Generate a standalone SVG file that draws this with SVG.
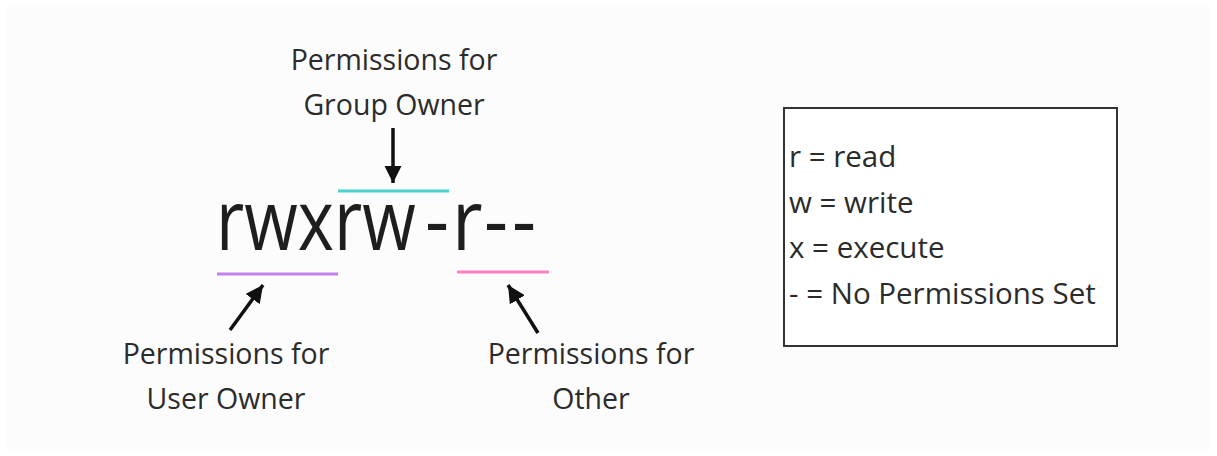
<svg xmlns="http://www.w3.org/2000/svg" width="1217" height="456" viewBox="0 0 1217 456">
  <defs>
    <marker id="head" viewBox="0 0 10 10" refX="10" refY="5" markerWidth="5" markerHeight="5" markerUnits="strokeWidth" orient="auto">
      <path d="M0,0 L10,5 L0,10 z" fill="#111"/>
    </marker>
    <style>
      .lbl { font-family: "Open Sans", "Noto Sans", sans-serif; font-size: 28.5px; fill: #2b2b2b; text-anchor: middle; }
      .key { font-family: "Open Sans", "Noto Sans", sans-serif; font-size: 29.5px; fill: #2b2b2b; }
      .perm { font-family: "Open Sans", "Noto Sans", sans-serif; font-size: 84px; fill: #1e1e1e; }
      .arrow { stroke: #111; stroke-width: 3.5; fill: none; marker-end: url(#head); }
      .bar { stroke-width: 3; }
    </style>
  </defs>

  <rect width="1217" height="456" fill="#ffffff"/>
  <rect x="7" y="7" width="1203" height="442" fill="#fcfcfc"/>

  <!-- permission string: condensed user+group triplets, then the other triplet spaced out -->
  <g id="perm-string">
    <g transform="scale(0.823 1)">
      <text class="perm" x="262.5" y="250">rwxrw</text>
    </g>
    <g transform="scale(0.89 1)">
      <text class="perm" x="477.5 507.9 543.8 575.3" y="250">-r--</text>
    </g>
  </g>

  <!-- coloured brackets under each triplet -->
  <g id="group-bar"><line class="bar" x1="338" y1="191" x2="449" y2="191" stroke="#4ccfcf"/></g>
  <g id="user-bar"><line class="bar" x1="217" y1="274" x2="338" y2="274" stroke="#c47ff0"/></g>
  <g id="other-bar"><line class="bar" x1="457" y1="272" x2="549" y2="272" stroke="#ff7fbf"/></g>

  <!-- captions -->
  <g id="group-label">
    <text class="lbl" x="394" y="70">Permissions for</text>
    <text class="lbl" x="394" y="115">Group Owner</text>
  </g>
  <g id="user-label">
    <text class="lbl" x="226" y="364">Permissions for</text>
    <text class="lbl" x="226" y="409">User Owner</text>
  </g>
  <g id="other-label">
    <text class="lbl" x="591" y="364">Permissions for</text>
    <text class="lbl" x="591" y="409">Other</text>
  </g>

  <!-- legend -->
  <g id="legend">
    <rect x="784" y="108" width="333" height="238" fill="#ffffff" stroke="#333" stroke-width="2"/>
    <text class="key" x="789" y="167">r = read</text>
    <text class="key" x="789" y="213">w = write</text>
    <text class="key" x="789" y="258">x = execute</text>
    <text class="key" x="789" y="304">- = No Permissions Set</text>
  </g>

  <!-- pointers -->
  <g id="connectors">
    <line class="arrow" x1="393" y1="128" x2="393" y2="183"/>
    <line class="arrow" x1="230" y1="330" x2="263" y2="285"/>
    <line class="arrow" x1="538" y1="333" x2="508" y2="285"/>
  </g>
</svg>
